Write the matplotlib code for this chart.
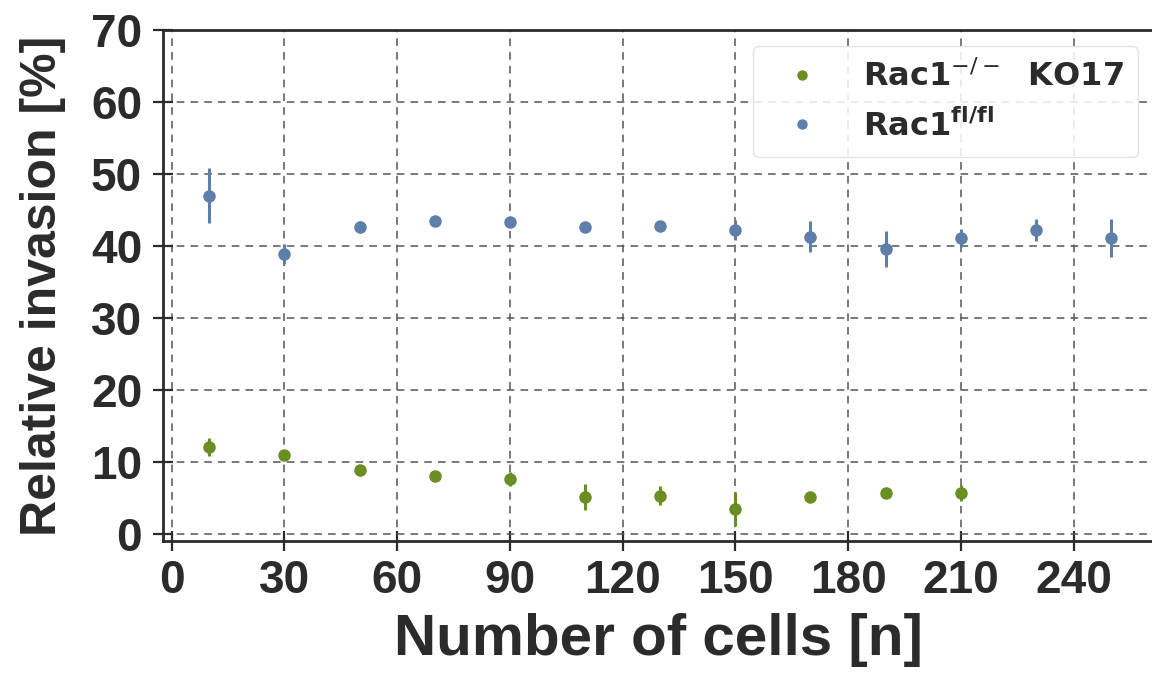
import matplotlib
matplotlib.use("Agg")
import matplotlib.pyplot as plt
from matplotlib.lines import Line2D

# Data
cells_ko = [10, 30, 50, 70, 90, 110, 130, 150, 170, 190, 210]
ko_mean = [12.0, 11.0, 8.8, 8.1, 7.6, 5.1, 5.3, 3.4, 5.1, 5.7, 5.7]
ko_err = [1.25, 0.6, 0.2, 0.2, 1.0, 1.8, 1.35, 2.35, 0.2, 0.2, 1.15]

cells_fl = [10, 30, 50, 70, 90, 110, 130, 150, 170, 190, 210, 230, 250]
fl_mean = [47.0, 38.9, 42.6, 43.4, 43.3, 42.6, 42.8, 42.2, 41.3, 39.6, 41.1, 42.2, 41.1]
fl_err = [3.8, 1.4, 0.8, 0.2, 0.4, 0.4, 0.2, 1.4, 2.1, 2.5, 1.2, 1.5, 2.6]

label_ko = r"Rac1$^{-/-}$  KO17"
label_fl = r"Rac1$^{\mathbf{fl/fl}}$"
xticks = [0, 30, 60, 90, 120, 150, 180, 210, 240]
yticks = [0, 10, 20, 30, 40, 50, 60, 70]

green = "#6b8e23"
blue = "#5f7fab"
dark = "#2b2b2b"

plt.rcParams["mathtext.fontset"] = "dejavusans"

fig = plt.figure(figsize=(11.52, 6.75), dpi=100)
ax = fig.add_axes([163 / 1152, 1 - 541 / 675, 1 - 163 / 1152 + 0.002, (541 - 30) / 675])

ax.errorbar(cells_ko, ko_mean, yerr=ko_err, fmt="o", color=green, ms=8,
            elinewidth=2.2, capsize=0, zorder=3)
ax.errorbar(cells_fl, fl_mean, yerr=fl_err, fmt="o", color=blue, ms=8,
            elinewidth=2.2, capsize=0, zorder=3)

ax.set_xlim(-2.3, 261.5)
ax.set_ylim(-1, 70)
ax.set_xticks(xticks)
ax.set_yticks(yticks)

ax.grid(True, linestyle=(0, (5, 4)), color="#555555", linewidth=1.1)
ax.set_axisbelow(True)
for s in ax.spines.values():
    s.set_color(dark)
    s.set_linewidth(2)

ax.tick_params(axis="both", direction="inout", length=14, width=1.6, color=dark,
               labelcolor=dark)
ax.tick_params(axis="y", pad=8)
ax.tick_params(axis="x", pad=6)
for lab in ax.get_xticklabels() + ax.get_yticklabels():
    lab.set_fontfamily("Liberation Sans")
    lab.set_fontweight("bold")
    lab.set_fontsize(33)

ax.set_xlabel("Number of cells [n]", family="Liberation Sans", weight="bold",
              size=42, color=dark, labelpad=7)
ax.set_ylabel("Relative invasion [%]", family="Liberation Sans", weight="bold",
              size=36, color=dark, labelpad=18)

handles = [
    Line2D([], [], linestyle="none", marker="o", color=green, ms=6.5),
    Line2D([], [], linestyle="none", marker="o", color=blue, ms=6.5),
]
leg = ax.legend(handles, [label_ko, label_fl], loc="upper right",
                bbox_to_anchor=(0.9935, 0.987),
                prop=dict(family="DejaVu Sans", weight="bold", size=23),
                handletextpad=0.8, borderpad=0.45,
                labelspacing=0.5, frameon=True, fancybox=True,
                handlelength=2.2, borderaxespad=0.3)
leg.get_frame().set_edgecolor("#dddddd")
leg.get_frame().set_facecolor("white")
leg.get_frame().set_alpha(0.85)
for t in leg.get_texts():
    t.set_color(dark)

fig.savefig("out.png", dpi=100)
